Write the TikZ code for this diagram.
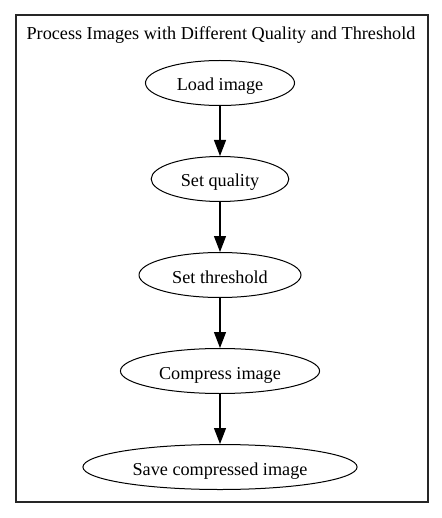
\documentclass[tikz,border=0pt]{standalone}
\usepackage{fontspec}
\setmainfont{Liberation Serif}
\usepackage{tikz}
\usetikzlibrary{shapes, arrows.meta, positioning}

\begin{document}
\begin{tikzpicture}
  [
    x=1pt, y=1pt,
    font=\fontsize{18.2pt}{21pt}\selectfont,
    Oval/.style={ellipse, draw=black, line width=1pt, inner xsep=9.5pt, inner ysep=3pt, minimum height=45pt, text height=18pt, text depth=2pt},
    Frame/.style={draw=black!85, line width=1.3pt},
    Flow/.style={-{Triangle[length=16pt, width=12pt]}, draw, line width=1.2pt}
  ]
  \useasboundingbox (0, 0) rectangle (441, -518);
  % Frame
  \draw[Frame] (16, -15) rectangle (428, -502);
  \node (title) at(221, -35) {Process Images with Different Quality and Threshold};

  % Nodes
  \node[Oval] (load) at(220, -83) {Load image};
  \node[Oval, below=50pt of load] (quality) {Set quality};
  \node[Oval, below=50pt of quality] (threshold) {Set threshold};
  \node[Oval, below=50pt of threshold] (compress) {Compress image};
  \node[Oval, below=50pt of compress] (save) {Save compressed image};

  % Lines
  \path [Flow] (load) -- (quality);
  \path [Flow] (quality) -- (threshold);
  \path [Flow] (threshold) -- (compress);
  \path [Flow] (compress) -- (save);

\end{tikzpicture}
\end{document}
